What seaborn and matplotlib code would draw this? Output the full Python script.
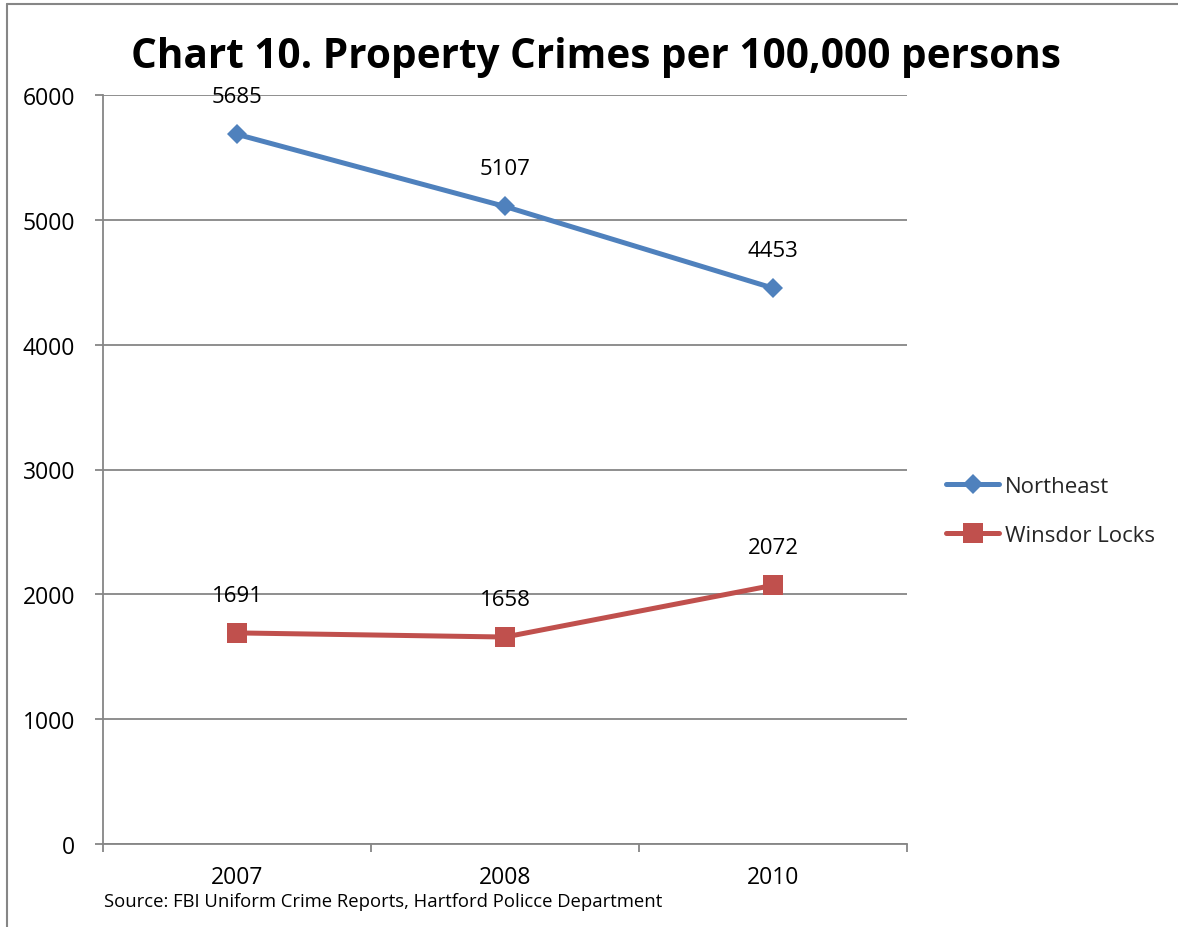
import matplotlib
matplotlib.use("Agg")
import matplotlib.pyplot as plt
from matplotlib.lines import Line2D
from matplotlib.ticker import FixedLocator
import seaborn as sns
import pandas as pd

years = ["2007", "2008", "2010"]
northeast = [5685, 5107, 4453]
winsor_locks = [1691, 1658, 2072]
series_names = ["Northeast", "Winsdor Locks"]
y_ticks = [0, 1000, 2000, 3000, 4000, 5000, 6000]

df = pd.DataFrame({
    "Year": years * 2,
    "Rate": northeast + winsor_locks,
    "Area": [series_names[0]] * len(years) + [series_names[1]] * len(years),
})

sns.set_theme(style="white")
plt.rcParams["font.family"] = ["Open Sans", "DejaVu Sans"]

colors = ["#4F81BD", "#C0504D"]
markers = ["D", "s"]
msizes = [10, 14]
grid_c = "#868686"

fig = plt.figure(figsize=(11.78, 9.28), dpi=100)
ax = fig.add_axes([103 / 1178, 1 - 845 / 928, (907 - 103) / 1178, (845 - 96) / 928])

for name, col, mk, ms in zip(series_names, colors, markers, msizes):
    sub = df[df["Area"] == name]
    sns.pointplot(data=sub, x="Year", y="Rate", order=years, color=col,
                  markers=mk, errorbar=None, ax=ax, linewidth=3.6,
                  markersize=ms, markeredgewidth=0, label=name)

ax.set_xlim(-0.5, len(years) - 0.5)
ax.set_ylim(0, 6000)
ax.set_yticks(y_ticks)
ax.set_yticklabels([str(v) for v in y_ticks])
ax.yaxis.grid(True, color=grid_c, linewidth=1.3)
ax.xaxis.grid(False)
ax.set_axisbelow(True)
for s in ["top", "right"]:
    ax.spines[s].set_visible(False)
for s in ["left", "bottom"]:
    ax.spines[s].set_color(grid_c)
    ax.spines[s].set_linewidth(1.3)

ax.set_xticks(range(len(years)))
ax.set_xticklabels(years)
ax.xaxis.set_minor_locator(FixedLocator([i - 0.5 for i in range(len(years) + 1)]))
ax.tick_params(axis="x", which="major", length=0, pad=15, labelsize=16.5, colors="black")
ax.tick_params(axis="x", which="minor", bottom=True, length=6, width=1.3, color=grid_c,
               direction="out")
ax.tick_params(axis="y", which="major", length=6, width=1.3, color=grid_c, direction="out",
               left=True, pad=14, labelsize=16.5, labelcolor="black")
ax.set_xlabel("")
ax.set_ylabel("")

# value labels above each point
for vals in (northeast, winsor_locks):
    for i, v in enumerate(vals):
        ax.annotate(str(v), (i, v), xytext=(0, 27), textcoords="offset points",
                    ha="center", va="center", fontsize=16, color="black")

leg = ax.get_legend()
if leg is not None:
    leg.remove()
handles = [Line2D([], [], color=c, marker=m, markersize=ms, linewidth=3.6, markeredgewidth=0)
           for c, m, ms in zip(colors, markers, msizes)]
fig.legend(handles, series_names, loc="center left", bbox_to_anchor=(935 / 1178, 1 - 512 / 928),
           frameon=False, fontsize=16, handlelength=2.4, handletextpad=0.25,
           labelspacing=1.25, borderpad=0)

fig.text(596 / 1178, 1 - 58 / 928, "Chart 10. Property Crimes per 100,000 persons",
         ha="center", va="center", fontsize=29.2, fontweight="bold", color="black")
fig.text(104 / 1178, 1 - 902 / 928, "Source: FBI Uniform Crime Reports, Hartford Policce Department",
         ha="left", va="center", fontsize=13.3, color="black")

# chart frame
fig.add_artist(Line2D([7 / 1178, 7 / 1178], [0, 1 - 5 / 928], color=grid_c, linewidth=1.5,
                      transform=fig.transFigure))
fig.add_artist(Line2D([7 / 1178, 1], [1 - 5 / 928, 1 - 5 / 928], color=grid_c, linewidth=1.5,
                      transform=fig.transFigure))

fig.savefig("out.png", dpi=100, facecolor="white")
